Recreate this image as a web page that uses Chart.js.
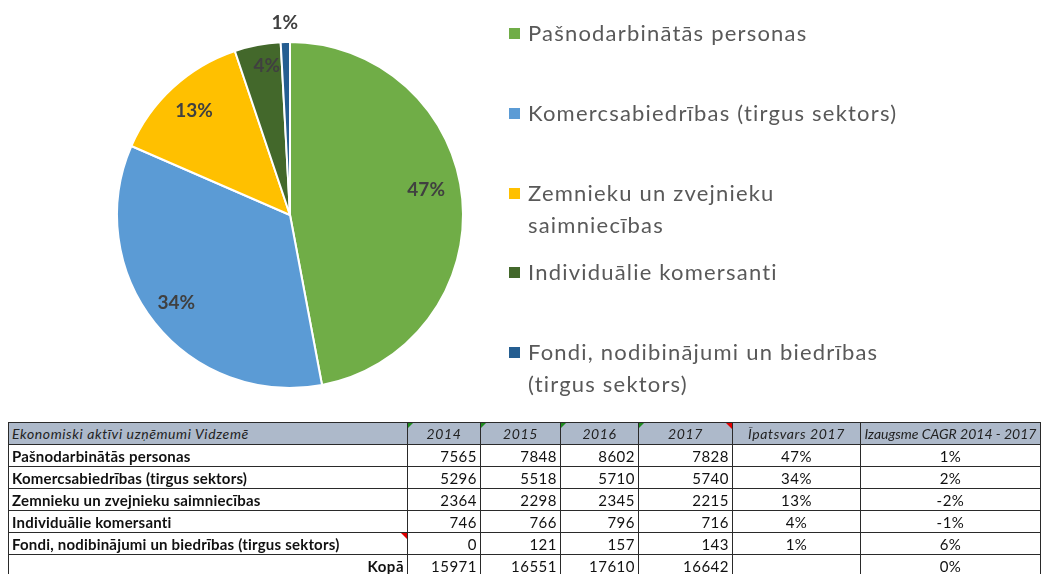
<!DOCTYPE html>
<html lang="lv">
<head>
<meta charset="utf-8">
<title>Ekonomiski aktīvi uzņēmumi Vidzemē</title>
<script src="https://cdn.jsdelivr.net/npm/chart.js@4.4.1/dist/chart.umd.min.js"></script>
<style>
    html, body {
        margin: 0;
        padding: 0;
        background: #fff;
        width: 1042px;
        height: 574px;
        overflow: hidden;
        font-family: Lato, "Noto Sans", sans-serif;
    }
    #pieWrap {
        position: absolute;
        left: 0;
        top: 0;
        width: 580px;
        height: 430px;
    }
    #legend {
        position: absolute;
        left: 509px;
        top: 0;
        width: 533px;
        color: #595959;
        font-size: 22px;
        letter-spacing: 1.2px;
    }
    .legend-item {
        position: absolute;
        left: 0;
        line-height: 32px;
        padding-left: 19px;
        white-space: nowrap;
    }
    .legend-item .box {
        position: absolute;
        left: 0;
        top: 11px;
        width: 11px;
        height: 11px;
    }
    #dataTable {
        position: absolute;
        left: 8px;
        top: 422px;
        width: 1032px;
        border-collapse: collapse;
        table-layout: fixed;
        font-size: 15px;
        letter-spacing: 0.5px;
        color: #111;
    }
    #dataTable td, #dataTable th {
        border: 1px solid #2a2a2a;
        height: 21px;
        padding: 0 3px;
        position: relative;
        overflow: hidden;
        white-space: nowrap;
    }
    #dataTable th {
        background: #adb9ca;
        font-style: italic;
        font-weight: normal;
        font-size: 14px;
        letter-spacing: 0.6px;
        text-align: center;
        color: #222;
    }
    #dataTable th.first { text-align: left; }
    #dataTable th.tight { letter-spacing: 0; padding: 0 1px; }
    #dataTable td.name { font-weight: bold; text-align: left; letter-spacing: 0.2px; }
    #dataTable td.num { text-align: right; }
    #dataTable td.pct { text-align: center; }
    #dataTable td.total { text-align: right; font-weight: bold; }
    .mark-g::before, .mark-r::after {
        content: '';
        position: absolute;
        top: 0;
        width: 0;
        height: 0;
        border-style: solid;
    }
    .mark-g::before {
        left: 0;
        border-width: 5px 5px 0 0;
        border-color: #1e8a1e transparent transparent transparent;
    }
    .mark-r::after {
        right: 0;
        border-width: 0 6px 6px 0;
        border-color: transparent #e00000 transparent transparent;
    }
</style>
</head>
<body>
<div id="pieWrap"><canvas id="pieChart"></canvas></div>
<div id="legend"></div>
<table id="dataTable">
    <colgroup>
        <col style="width:399px">
        <col style="width:73px">
        <col style="width:80px">
        <col style="width:78px">
        <col style="width:94px">
        <col style="width:128px">
        <col style="width:180px">
    </colgroup>
    <thead id="tableHead"></thead>
    <tbody id="tableBody"></tbody>
</table>
<script>
// Company groups and yearly counts
const categories = [
    'Pašnodarbinātās personas',
    'Komercsabiedrības (tirgus sektors)',
    'Zemnieku un zvejnieku saimniecības',
    'Individuālie komersanti',
    'Fondi, nodibinājumi un biedrības (tirgus sektors)'
];
const legendLabels = [
    ['Pašnodarbinātās personas'],
    ['Komercsabiedrības (tirgus sektors)'],
    ['Zemnieku un zvejnieku', 'saimniecības'],
    ['Individuālie komersanti'],
    ['Fondi, nodibinājumi un biedrības', '(tirgus sektors)']
];
const years = ['2014', '2015', '2016', '2017'];
const values2014 = [7565, 5296, 2364, 746, 0];
const values2015 = [7848, 5518, 2298, 766, 121];
const values2016 = [8602, 5710, 2345, 796, 157];
const values2017 = [7828, 5740, 2215, 716, 143];
const cagr = ['1%', '2%', '-2%', '-1%', '6%'];
const cagrTotal = '0%';

const tableTitle = 'Ekonomiski aktīvi uzņēmumi Vidzemē';
const shareTitle = 'Īpatsvars 2017';
const cagrTitle = 'Izaugsme CAGR 2014 - 2017';
const totalLabel = 'Kopā';

// Slice colours and label placement (fraction of radius, angle nudge in degrees)
const sliceColors = ['#70ad47', '#5b9bd5', '#ffc000', '#43682b', '#255e91'];
const labelRadius = [0.80, 0.83, 0.82, 0.87, 1.11];
const labelNudge = [-5, 1, 0, 2, 0];

const sum = arr => arr.reduce((a, b) => a + b, 0);
const total2017 = sum(values2017);
const share = v => Math.round(v / total2017 * 100) + '%';

// Percentage labels on the slices
const sliceLabels = {
    id: 'sliceLabels',
    afterDatasetsDraw(chart) {
        const ctx = chart.ctx;
        const meta = chart.getDatasetMeta(0);
        ctx.save();
        ctx.font = 'bold 19px Lato, "Noto Sans", sans-serif';
        ctx.fillStyle = '#404040';
        ctx.textAlign = 'center';
        ctx.textBaseline = 'middle';
        meta.data.forEach((arc, i) => {
            const { x, y, startAngle, endAngle, outerRadius } = arc.getProps(['x', 'y', 'startAngle', 'endAngle', 'outerRadius'], true);
            const mid = (startAngle + endAngle) / 2 + labelNudge[i] * Math.PI / 180;
            const r = outerRadius * labelRadius[i];
            ctx.fillText(share(values2017[i]), x + Math.cos(mid) * r, y + Math.sin(mid) * r);
        });
        ctx.restore();
    }
};

new Chart(document.getElementById('pieChart'), {
    type: 'pie',
    data: {
        labels: categories,
        datasets: [{
            data: values2017,
            backgroundColor: sliceColors,
            borderColor: '#ffffff',
            borderWidth: 2
        }]
    },
    options: {
        responsive: true,
        maintainAspectRatio: false,
        animation: false,
        layout: { padding: { top: 41, bottom: 41 } },
        plugins: {
            legend: { display: false },
            tooltip: { enabled: false }
        }
    },
    plugins: [sliceLabels]
});

// Legend on the right
const legendTops = [17, 97, 177, 256, 336];
document.getElementById('legend').innerHTML = legendLabels.map((lines, i) => `
    <div class="legend-item" style="top:${legendTops[i]}px">
        <span class="box" style="background:${sliceColors[i]}"></span>
        ${lines.join('<br>')}
    </div>
`).join('');

// Table below the pie
const allYears = [values2014, values2015, values2016, values2017];
document.getElementById('tableHead').innerHTML = `
    <tr>
        <th class="first">${tableTitle}</th>
        ${years.map((y, i) => `<th class="mark-g${i === 3 ? ' mark-r' : ''}">${y}</th>`).join('')}
        <th>${shareTitle}</th>
        <th class="tight">${cagrTitle}</th>
    </tr>
`;
const rows = categories.map((name, i) => `
    <tr>
        <td class="name${i === 4 ? ' mark-r' : ''}">${name}</td>
        ${allYears.map(vals => `<td class="num">${vals[i]}</td>`).join('')}
        <td class="pct">${share(values2017[i])}</td>
        <td class="pct">${cagr[i]}</td>
    </tr>
`).join('');
const totalRow = `
    <tr>
        <td class="total">${totalLabel}</td>
        ${allYears.map(vals => `<td class="num">${sum(vals)}</td>`).join('')}
        <td class="pct"></td>
        <td class="pct">${cagrTotal}</td>
    </tr>
`;
document.getElementById('tableBody').innerHTML = rows + totalRow;
</script>
</body>
</html>
